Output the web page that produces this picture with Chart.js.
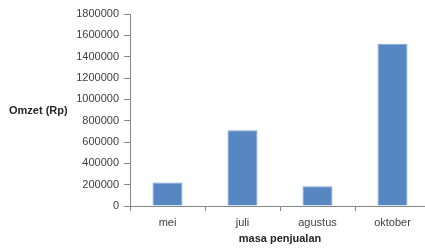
<!DOCTYPE html>
<html>
<head>
<meta charset="utf-8">
<script src="https://cdn.jsdelivr.net/npm/chart.js@4"></script>
<style>
  html, body { margin: 0; padding: 0; background: #fff; overflow: hidden; }
  #wrap { width: 432px; height: 248px; }
</style>
</head>
<body>
<div id="wrap"><canvas id="myChart"></canvas></div>
<script>
// Data
const categories = ['mei', 'juli', 'agustus', 'oktober'];
const omzet = [220000, 710000, 185000, 1520000];
const yTicks = [0, 200000, 400000, 600000, 800000, 1000000, 1200000, 1400000, 1600000, 1800000];
const yTitle = 'Omzet (Rp)';
const xTitle = 'masa penjualan';

const font = { family: 'Liberation Sans, Arial, sans-serif', size: 11 };

// Titles drawn on the canvas
const titlesPlugin = {
    id: 'titles',
    afterDraw(chart) {
        const ctx = chart.ctx;
        ctx.save();
        ctx.fillStyle = '#262626';
        ctx.font = 'bold 11px Liberation Sans, Arial, sans-serif';
        ctx.textBaseline = 'middle';
        ctx.textAlign = 'left';
        ctx.fillText(yTitle, 9, 111);
        ctx.textAlign = 'center';
        ctx.fillText(xTitle, 280, 239);
        ctx.restore();
    }
};

var ctx = document.getElementById('myChart').getContext('2d');
var myChart = new Chart(ctx, {
    type: 'bar',
    data: {
        labels: categories,
        datasets: [{
            data: omzet,
            backgroundColor: '#5687C2',
            borderColor: '#7FA3D2',
            borderWidth: 1,
            barPercentage: 0.4,
            categoryPercentage: 1
        }]
    },
    options: {
        responsive: true,
        maintainAspectRatio: false,
        animation: false,
        layout: { padding: { top: 14, right: 2, left: 0, bottom: 0 } },
        plugins: {
            legend: { display: false },
            tooltip: { enabled: false }
        },
        scales: {
            x: {
                grid: {
                    drawOnChartArea: false,
                    tickLength: 5,
                    color: '#868686',
                    offset: true
                },
                border: { color: '#868686' },
                ticks: { font: font, color: '#404040', padding: 5 },
                afterFit: scale => { scale.height = 42; }
            },
            y: {
                min: 0,
                max: 1800000,
                afterBuildTicks: scale => { scale.ticks = yTicks.map(v => ({ value: v })); },
                grid: {
                    drawOnChartArea: false,
                    tickLength: 6,
                    color: '#868686'
                },
                border: { color: '#868686' },
                ticks: {
                    font: font,
                    color: '#404040',
                    padding: 5,
                    callback: value => String(value)
                },
                afterFit: scale => { scale.width = 130; }
            }
        }
    },
    plugins: [titlesPlugin]
});
</script>
</body>
</html>
